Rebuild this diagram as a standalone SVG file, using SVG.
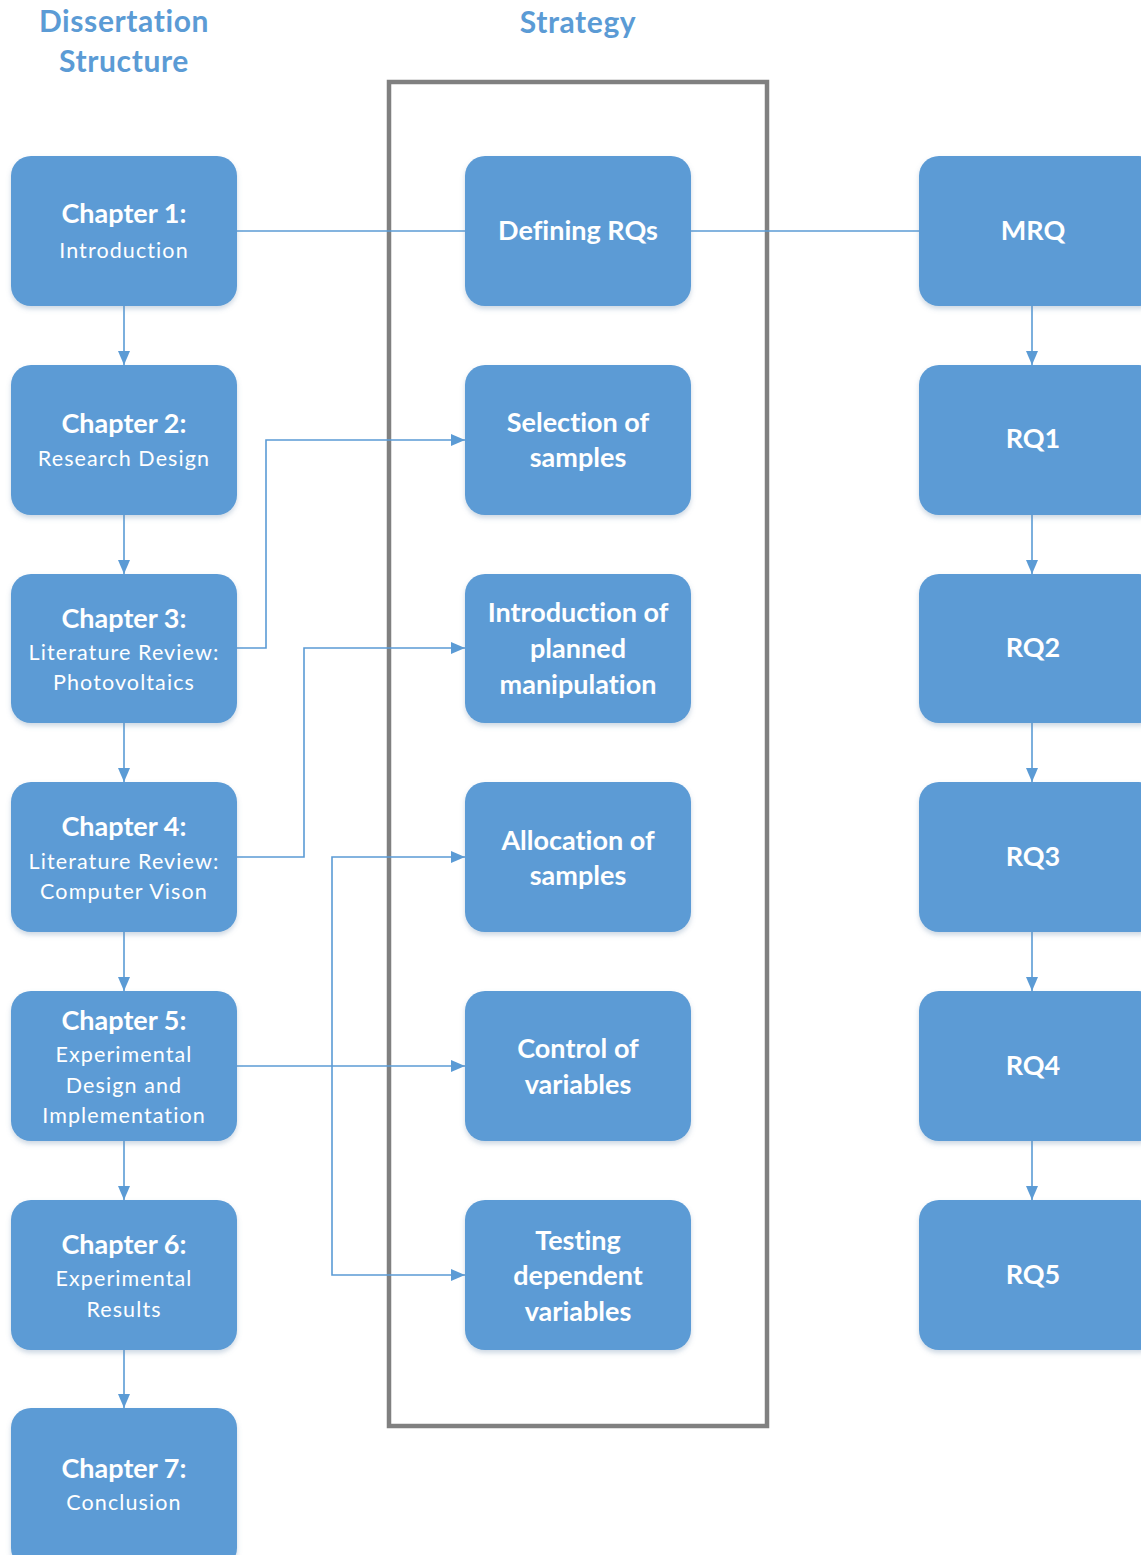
<svg xmlns="http://www.w3.org/2000/svg" width="1141" height="1555" viewBox="0 0 1141 1555">
  <style>
    .box { fill: #5B9BD5; filter: url(#shadow); }
    .hdr { font-family: Lato, "Open Sans", sans-serif; font-weight: bold; font-size: 30px; letter-spacing: 0.6px; fill: #5B9BD5; text-anchor: middle; }
    .b { font-family: Lato, "Open Sans", sans-serif; font-weight: bold; font-size: 27px; fill: #FFFFFF; text-anchor: middle; font-variant-ligatures: none; }
    .r { font-family: Lato, "Open Sans", sans-serif; font-size: 21.5px; fill: #FFFFFF; text-anchor: middle; letter-spacing: 1.1px; }
    .ln { fill: none; stroke: #5B9BD5; stroke-width: 1.6; }
    .arr { marker-end: url(#head); }
    .frame { fill: none; stroke: #808080; stroke-width: 4.5; }
  </style>
  <defs>
    <filter id="shadow" x="-10%" y="-10%" width="120%" height="125%">
      <feGaussianBlur in="SourceAlpha" stdDeviation="2.5"/>
      <feOffset dx="0" dy="3" result="b"/>
      <feFlood flood-color="#6f8fb0" flood-opacity="0.35"/>
      <feComposite in2="b" operator="in"/>
      <feMerge><feMergeNode/><feMergeNode in="SourceGraphic"/></feMerge>
    </filter>
    <marker id="head" markerUnits="userSpaceOnUse" markerWidth="14" markerHeight="12" refX="14" refY="6" orient="auto">
      <path d="M0,0 L14,6 L0,12 z" fill="#5B9BD5"/>
    </marker>
  </defs>
  <rect width="1141" height="1555" fill="#FFFFFF"/>

  <!-- column headings -->
  <text class="hdr" x="124" y="32">Dissertation</text>
  <text class="hdr" x="124" y="72">Structure</text>
  <text class="hdr" x="578" y="33">Strategy</text>

  <!-- strategy frame -->
  <rect class="frame" x="389" y="82" width="378" height="1344"/>

  <!-- connectors -->
  <g id="connectors">
    <path class="ln" d="M237,231 H465"/>
    <path class="ln" d="M691,231 H919"/>
    <path class="ln arr" d="M124,306 V365"/>
    <path class="ln arr" d="M124,515 V574"/>
    <path class="ln arr" d="M124,723 V782"/>
    <path class="ln arr" d="M124,932 V991"/>
    <path class="ln arr" d="M124,1141 V1200"/>
    <path class="ln arr" d="M124,1350 V1408"/>
    <path class="ln arr" d="M1032,306 V365"/>
    <path class="ln arr" d="M1032,515 V574"/>
    <path class="ln arr" d="M1032,723 V782"/>
    <path class="ln arr" d="M1032,932 V991"/>
    <path class="ln arr" d="M1032,1141 V1200"/>
    <path class="ln arr" d="M237,648 H266 V440 H465"/>
    <path class="ln arr" d="M237,857 H304 V648 H465"/>
    <path class="ln arr" d="M237,1066 H465"/>
    <path class="ln arr" d="M332,1066 V857 H465"/>
    <path class="ln arr" d="M332,1066 V1275 H465"/>
  </g>

  <!-- dissertation chapters -->
  <g id="ch1"><rect class="box" x="11" y="156" width="226" height="150" rx="20"/>
    <text class="b" x="124" y="223">Chapter 1:</text><text class="r" x="124" y="258">Introduction</text></g>
  <g id="ch2"><rect class="box" x="11" y="365" width="226" height="150" rx="20"/>
    <text class="b" x="124" y="433">Chapter 2:</text><text class="r" x="124" y="466">Research Design</text></g>
  <g id="ch3"><rect class="box" x="11" y="574" width="226" height="149" rx="20"/>
    <text class="b" x="124" y="628">Chapter 3:</text><text class="r" x="124" y="660">Literature Review:</text><text class="r" x="124" y="690">Photovoltaics</text></g>
  <g id="ch4"><rect class="box" x="11" y="782" width="226" height="150" rx="20"/>
    <text class="b" x="124" y="836">Chapter 4:</text><text class="r" x="124" y="869">Literature Review:</text><text class="r" x="124" y="899">Computer Vison</text></g>
  <g id="ch5"><rect class="box" x="11" y="991" width="226" height="150" rx="20"/>
    <text class="b" x="124" y="1030">Chapter 5:</text><text class="r" x="124" y="1062">Experimental</text><text class="r" x="124" y="1093">Design and</text><text class="r" x="124" y="1123">Implementation</text></g>
  <g id="ch6"><rect class="box" x="11" y="1200" width="226" height="150" rx="20"/>
    <text class="b" x="124" y="1254">Chapter 6:</text><text class="r" x="124" y="1286">Experimental</text><text class="r" x="124" y="1317">Results</text></g>
  <g id="ch7"><rect class="box" x="11" y="1408" width="226" height="160" rx="20"/>
    <text class="b" x="124" y="1478">Chapter 7:</text><text class="r" x="124" y="1510">Conclusion</text></g>

  <!-- strategy steps -->
  <g id="s1"><rect class="box" x="465" y="156" width="226" height="150" rx="20"/>
    <text class="b" x="578" y="240">Defining RQs</text></g>
  <g id="s2"><rect class="box" x="465" y="365" width="226" height="150" rx="20"/>
    <text class="b" x="578" y="432">Selection of</text><text class="b" x="578" y="467">samples</text></g>
  <g id="s3"><rect class="box" x="465" y="574" width="226" height="149" rx="20"/>
    <text class="b" x="578" y="622">Introduction of</text><text class="b" x="578" y="658">planned</text><text class="b" x="578" y="694">manipulation</text></g>
  <g id="s4"><rect class="box" x="465" y="782" width="226" height="150" rx="20"/>
    <text class="b" x="578" y="850">Allocation of</text><text class="b" x="578" y="885">samples</text></g>
  <g id="s5"><rect class="box" x="465" y="991" width="226" height="150" rx="20"/>
    <text class="b" x="578" y="1058">Control of</text><text class="b" x="578" y="1094">variables</text></g>
  <g id="s6"><rect class="box" x="465" y="1200" width="226" height="150" rx="20"/>
    <text class="b" x="578" y="1250">Testing</text><text class="b" x="578" y="1285">dependent</text><text class="b" x="578" y="1321">variables</text></g>

  <!-- research questions -->
  <g id="mrq"><rect class="box" x="919" y="156" width="240" height="150" rx="20"/>
    <text class="b" x="1033" y="240">MRQ</text></g>
  <g id="rq1"><rect class="box" x="919" y="365" width="240" height="150" rx="20"/>
    <text class="b" x="1033" y="448">RQ1</text></g>
  <g id="rq2"><rect class="box" x="919" y="574" width="240" height="149" rx="20"/>
    <text class="b" x="1033" y="657">RQ2</text></g>
  <g id="rq3"><rect class="box" x="919" y="782" width="240" height="150" rx="20"/>
    <text class="b" x="1033" y="866">RQ3</text></g>
  <g id="rq4"><rect class="box" x="919" y="991" width="240" height="150" rx="20"/>
    <text class="b" x="1033" y="1075">RQ4</text></g>
  <g id="rq5"><rect class="box" x="919" y="1200" width="240" height="150" rx="20"/>
    <text class="b" x="1033" y="1284">RQ5</text></g>
</svg>
